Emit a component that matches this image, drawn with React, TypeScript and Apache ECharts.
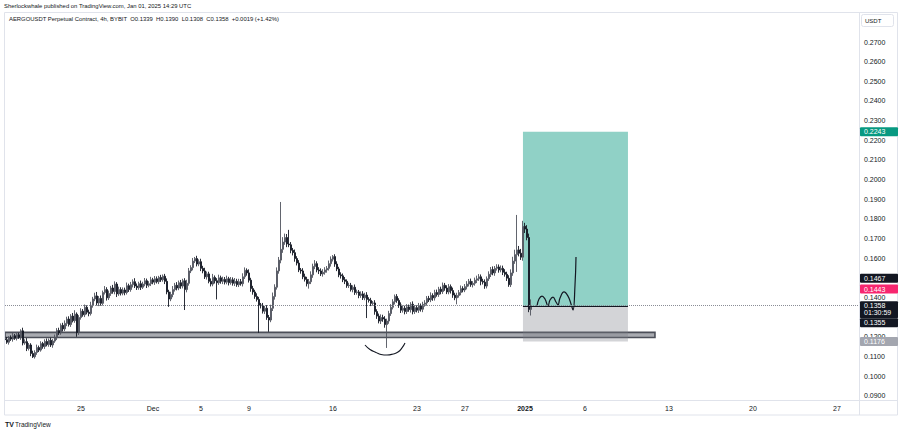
import React, { useEffect, useRef } from 'react';
import * as echarts from 'echarts';

// Day 0 = 1 Dec 2024 00:00 UTC; 4h candles start 18 Nov 16:00 UTC
const startDay = -12 - 1 / 3;
const firstOpen = 1190; // prices in units of 0.0001
const closes = [
  1185, 1172, 1195, 1188, 1205, 1192, 1210, 1198, 1230, 1168,
  1175, 1140, 1158, 1115, 1098, 1120, 1145, 1132, 1165, 1150,
  1176, 1160, 1182, 1158, 1178, 1195, 1232, 1220, 1258, 1240,
  1268, 1290, 1262, 1305, 1282, 1315, 1222, 1298, 1330, 1312,
  1350, 1325, 1318, 1360, 1392, 1408, 1372, 1395, 1370, 1425,
  1440, 1398, 1420, 1448, 1430, 1468, 1418, 1440, 1422, 1438,
  1425, 1460, 1440, 1465, 1480, 1458, 1450, 1470, 1452, 1468,
  1485, 1462, 1470, 1490, 1478, 1495, 1480, 1502, 1490, 1508,
  1482, 1428, 1392, 1415, 1440, 1462, 1448, 1475, 1458, 1485,
  1440, 1472, 1535, 1552, 1585, 1598, 1570, 1582, 1548, 1535,
  1505, 1520, 1482, 1468, 1502, 1485, 1475, 1500, 1482, 1492,
  1478, 1495, 1475, 1490, 1472, 1482, 1465, 1480, 1470, 1505,
  1538, 1525, 1488, 1445, 1428, 1405, 1390, 1362, 1358, 1330,
  1345, 1298, 1285, 1345, 1405, 1452, 1535, 1590, 1645, 1682,
  1705, 1672, 1668, 1640, 1628, 1598, 1575, 1540, 1535, 1505,
  1492, 1470, 1480, 1515, 1558, 1572, 1540, 1535, 1520, 1528,
  1540, 1548, 1572, 1595, 1608, 1570, 1545, 1515, 1510, 1490,
  1482, 1460, 1462, 1440, 1452, 1425, 1428, 1410, 1418, 1398,
  1412, 1390, 1385, 1370, 1372, 1328, 1305, 1280, 1298, 1290,
  1262, 1280, 1318, 1350, 1378, 1405, 1385, 1362, 1335, 1345,
  1328, 1352, 1338, 1365, 1328, 1348, 1335, 1358, 1340, 1365,
  1372, 1395, 1388, 1410, 1398, 1425, 1415, 1442, 1430, 1462,
  1448, 1428, 1455, 1435, 1412, 1398, 1410, 1425, 1445, 1438,
  1455, 1468, 1482, 1465, 1472, 1488, 1495, 1505, 1482, 1478,
  1458, 1495, 1518, 1542, 1525, 1548, 1555, 1540, 1548, 1528,
  1518, 1498, 1465, 1525, 1585, 1618, 1642, 1625, 1605, 1762,
  1748, 1705, 1339, 1358,
];
const highExt = [
  10, 14, 8, 12, 15, 9, 13, 10, 8, 16,
  12, 18, 10, 9, 14, 11, 15, 10, 12, 9,
  11, 15, 9, 13, 10, 16, 12, 14, 10, 13,
  15, 12, 14, 10, 16, 20, 9, 12, 15, 11,
  14, 10, 13, 18, 11, 16, 20, 12, 15, 10,
  18, 12, 15, 11, 16, 14, 10, 15, 12, 13,
  12, 16, 10, 14, 12, 18, 13, 10, 16, 12,
  14, 11, 13, 15, 10, 14, 12, 8, 13, 9,
  12, 15, 11, 14, 18, 12, 16, 11, 14, 10,
  13, 18, 15, 12, 16, 8, 14, 12, 15, 13,
  16, 12, 11, 15, 18, 10, 13, 16, 11, 14,
  12, 16, 10, 14, 12, 17, 13, 15, 14, 18,
  15, 10, 18, 12, 14, 11, 16, 13, 10, 14,
  12, 16, 13, 18, 20, 15, 18, 16, 241, 25,
  20, 18, 72, 14, 12, 16, 12, 15, 10, 14,
  16, 13, 14, 18, 14, 18, 12, 14, 13, 16,
  14, 12, 16, 14, 8, 12, 14, 11, 13, 12,
  14, 10, 13, 12, 10, 14, 12, 10, 13, 14,
  12, 15, 11, 13, 10, 14, 12, 13, 16, 14,
  15, 12, 14, 16, 13, 10, 12, 11, 13, 15,
  13, 14, 12, 11, 15, 13, 12, 14, 11, 13,
  14, 12, 13, 16, 11, 14, 15, 12, 13, 14,
  12, 14, 13, 11, 15, 12, 14, 13, 16, 12,
  13, 15, 12, 14, 11, 13, 16, 14, 12, 13,
  14, 12, 15, 13, 16, 12, 14, 13, 15, 14,
  16, 13, 15, 18, 22, 25, 178, 20, 22, 28,
  18, 20, 20, 32,
];
const lowExt = [
  10, 8, 12, 9, 13, 8, 11, 9, 14, 12,
  9, 13, 10, 14, 6, 9, 12, 10, 8, 11,
  12, 9, 11, 10, 14, 9, 12, 11, 10, 13,
  11, 14, 10, 12, 9, 11, 22, 13, 11, 10,
  12, 11, 14, 10, 12, 11, 13, 16, 12, 11,
  10, 14, 11, 12, 11, 14, 16, 10, 12, 11,
  14, 10, 12, 11, 14, 10, 12, 11, 14, 9,
  11, 14, 10, 12, 11, 14, 9, 12, 11, 10,
  14, 12, 40, 11, 14, 10, 12, 11, 14, 12,
  104, 14, 12, 11, 14, 10, 12, 11, 14, 12,
  11, 14, 10, 12, 11, 14, 85, 11, 12, 14,
  12, 11, 14, 10, 12, 14, 11, 12, 10, 14,
  11, 14, 12, 16, 14, 12, 11, 142, 14, 12,
  14, 12, 60, 11, 14, 16, 12, 14, 16, 18,
  14, 16, 12, 15, 14, 16, 12, 11, 14, 12,
  11, 14, 25, 12, 15, 14, 12, 16, 11, 14,
  12, 14, 11, 15, 12, 14, 11, 12, 14, 12,
  14, 11, 12, 10, 14, 12, 11, 14, 12, 11,
  12, 95, 11, 14, 12, 16, 14, 12, 15, 14,
  16, 119, 14, 12, 11, 14, 12, 15, 14, 12,
  14, 12, 11, 15, 14, 12, 11, 14, 12, 15,
  12, 14, 11, 12, 15, 14, 11, 12, 14, 12,
  14, 11, 12, 15, 14, 12, 33, 11, 14, 12,
  11, 14, 12, 11, 14, 12, 15, 11, 20, 12,
  14, 12, 11, 14, 12, 15, 11, 14, 12, 14,
  12, 14, 11, 12, 15, 14, 88, 16, 14, 18,
  20, 14, 14, 31,
];

const tickDays = [-6, 0, 4, 8, 15, 22, 26, 31, 36, 43, 50, 57];
const tickLabels = ['25', 'Dec', '5', '9', '16', '23', '27', '2025', '6', '13', '20', '27'];
// 0.1300 sits under the live-price badge in the reference, so it is not drawn
const priceTicks = [0.09, 0.1, 0.11, 0.12, 0.14, 0.15, 0.16, 0.17, 0.18, 0.19, 0.2, 0.21, 0.22, 0.23, 0.24, 0.25, 0.26, 0.27];

// hand-drawn projection path (day, price)
const projection = [
  [32.0, 0.1357], [32.167, 0.1392], [32.417, 0.1407], [32.667, 0.1392], [32.917, 0.1357],
  [33.083, 0.1387], [33.333, 0.1402], [33.583, 0.1377], [33.75, 0.1362],
  [33.917, 0.1397], [34.25, 0.1428], [34.583, 0.1407], [34.833, 0.1367], [35.0, 0.1336],
  [35.167, 0.1463], [35.25, 0.1606],
];
// arc drawn under the December low
const bottomArc = [
  [17.667, 0.1158], [18.083, 0.1135], [18.583, 0.112], [19.0, 0.111], [19.5, 0.1107],
  [20.0, 0.1112], [20.417, 0.1122], [20.75, 0.1143], [21.0, 0.1168],
];
const supportFrom = -12.333;
const supportTo = 41.83;
const supportLow = 0.1196;
const supportHigh = 0.1222;

const posStart = 30.83;
const posEnd = 39.58;
const posEntry = 0.1355;
const posTarget = 0.2243;
const posStop = 0.1176;
const lastPrice = 0.1358;

const badgeValues = [0.2243, 0.1467, 0.1443, 0.1358, 0.1355, 0.1176];
const badgeTexts = ['0.2243', '0.1467', '0.1443', '0.1358\n01:30:59', '0.1355', '0.1176'];

const FONT = 'Liberation Sans';
const TXT = '#131722';

export default function App() {
  const ref = useRef<HTMLDivElement>(null);
  useEffect(() => {
    if (!ref.current) return;
    const chart = echarts.init(ref.current, null, { renderer: 'svg' });
    const candles = closes.map((c, i) => {
      const o = i === 0 ? firstOpen : closes[i - 1];
      const h = Math.max(o, c) + highExt[i];
      const l = Math.min(o, c) - lowExt[i];
      return [startDay + i / 6, o / 1e4, c / 1e4, l / 1e4, h / 1e4];
    });
    const xMin = startDay;
    const xMax = 58.8333;
    chart.setOption({
      animation: false,
      backgroundColor: '#ffffff',
      grid: { left: 5, right: 41, top: 12, bottom: 33 },
      xAxis: {
        type: 'value',
        min: xMin,
        max: xMax,
        axisLine: { show: false },
        axisTick: { show: false },
        splitLine: { show: false },
        axisLabel: {
          customValues: tickDays,
          margin: 5,
          fontSize: 7,
          fontFamily: FONT,
          color: TXT,
          formatter: (v: number) => {
            const k = tickDays.findIndex((d) => Math.abs(d - v) < 1e-6);
            if (k < 0) return '';
            const s = tickLabels[k];
            return s === '2025' ? '{b|2025}' : s;
          },
          rich: { b: { fontWeight: 'bold', fontSize: 7, fontFamily: FONT, color: TXT } },
        },
      },
      yAxis: {
        type: 'value',
        position: 'right',
        min: 0.0878,
        max: 0.2853,
        scale: true,
        axisLine: { show: false },
        axisTick: { show: false },
        splitLine: { show: false },
        axisLabel: {
          customValues: priceTicks,
          margin: 5,
          fontSize: 7,
          fontFamily: FONT,
          color: TXT,
          formatter: (v: number) => v.toFixed(4),
        },
      },
      series: [
        {
          type: 'line',
          data: [],
          z: 1,
          silent: true,
          markArea: {
            silent: true,
            itemStyle: { color: '#a9abb1', borderColor: '#4c4f59', borderWidth: 1.6 },
            data: [[{ coord: [supportFrom, supportLow] }, { coord: [supportTo, supportHigh] }]],
          },
          markLine: {
            silent: true,
            symbol: 'none',
            label: { show: false },
            lineStyle: { type: 'dotted', color: '#8a8d96', width: 1 },
            data: [[{ coord: [startDay, lastPrice] }, { coord: [58.8333, lastPrice] }]],
          },
        },
        {
          type: 'candlestick',
          data: candles,
          encode: { x: 0, y: [1, 2, 3, 4] },
          barWidth: 1.6,
          z: 2,
          itemStyle: {
            color: '#7a7d87',
            borderColor: '#50535d',
            color0: '#131722',
            borderColor0: '#131722',
            borderWidth: 0.9,
          },
        },
        {
          type: 'line',
          data: [],
          z: 3,
          silent: true,
          markArea: {
            silent: true,
            data: [
              [
                { coord: [posStart, posEntry], itemStyle: { color: 'rgba(8,153,129,0.45)' } },
                { coord: [posEnd, posTarget] },
              ],
              [
                { coord: [posStart, posStop], itemStyle: { color: 'rgba(120,123,134,0.33)' } },
                { coord: [posEnd, posEntry] },
              ],
            ],
          },
          markLine: {
            silent: true,
            symbol: 'none',
            label: { show: false },
            lineStyle: { type: 'solid', color: '#131722', width: 1.2 },
            data: [[{ coord: [posStart, posEntry] }, { coord: [posEnd, posEntry] }]],
          },
        },
        {
          type: 'line',
          data: projection,
          smooth: 0.45,
          symbol: 'none',
          z: 4,
          lineStyle: { color: '#131722', width: 1.2 },
        },
        {
          type: 'line',
          data: bottomArc,
          smooth: 0.5,
          symbol: 'none',
          z: 4,
          lineStyle: { color: '#131722', width: 1.1 },
        },
      ],
    });

    const badgeColors = ['#089981', '#131722', '#f7266f', '#131722', '#131722', '#a3a6af'];
    const badgeShift = [0, -6, 0, 0, 16.5, 0];
    const graphics: any[] = [
      { type: 'rect', z: 50, shape: { x: 4.5, y: 12.5, width: 893, height: 402.5 }, style: { fill: 'none', stroke: '#e0e3eb', lineWidth: 1 } },
      { type: 'line', z: 50, shape: { x1: 859.5, y1: 12.5, x2: 859.5, y2: 415 }, style: { stroke: '#e0e3eb', lineWidth: 1 } },
      { type: 'line', z: 50, shape: { x1: 4.5, y1: 400.5, x2: 897.5, y2: 400.5 }, style: { stroke: '#e0e3eb', lineWidth: 1 } },
      { type: 'text', z: 60, x: 4, y: 6, style: { text: 'Sherlockwhale published on TradingView.com, Jan 01, 2025 14:29 UTC', fill: TXT, fontSize: 5.9, fontFamily: FONT, textVerticalAlign: 'middle' } },
      { type: 'text', z: 60, x: 9, y: 19, style: { text: 'AERGOUSDT Perpetual Contract, 4h, BYBIT  O0.1339  H0.1390  L0.1308  C0.1358  +0.0019 (+1.42%)', fill: TXT, fontSize: 5.9, fontFamily: FONT, textVerticalAlign: 'middle' } },
      { type: 'rect', z: 60, shape: { x: 861.5, y: 14.5, width: 32, height: 12, r: 2 }, style: { fill: '#ffffff', stroke: '#e0e3eb', lineWidth: 1 } },
      { type: 'text', z: 61, x: 865, y: 21, style: { text: 'USDT', fill: TXT, fontSize: 6, fontFamily: FONT, textVerticalAlign: 'middle' } },
      { type: 'text', z: 60, x: 5, y: 424, style: { text: 'TV', fill: TXT, fontSize: 7, fontWeight: 'bold', fontFamily: FONT, textVerticalAlign: 'middle' } },
      { type: 'text', z: 60, x: 15, y: 424, style: { text: 'TradingView', fill: TXT, fontSize: 6.5, fontFamily: FONT, textVerticalAlign: 'middle' } },
    ];
    badgeValues.forEach((v, i) => {
      const py = chart.convertToPixel({ yAxisIndex: 0 }, v) as number;
      const y = py + badgeShift[i];
      const two = badgeTexts[i].includes('\n');
      const h = two ? 17 : 9;
      graphics.push({ type: 'rect', z: 70, shape: { x: 860, y: y - 4.5, width: 38, height: h, r: 1 }, style: { fill: badgeColors[i] } });
      graphics.push({
        type: 'text', z: 71, x: 864, y: two ? y - 4 : y,
        style: { text: badgeTexts[i], fill: '#ffffff', fontSize: 7, fontFamily: FONT, lineHeight: 7.5, textVerticalAlign: two ? 'top' : 'middle' },
      });
    });
    chart.setOption({ graphic: graphics });
    return () => chart.dispose();
  }, []);
  return <div ref={ref} style={{ position: 'fixed', left: 0, top: 0, width: 900, height: 433 }} />;
}
